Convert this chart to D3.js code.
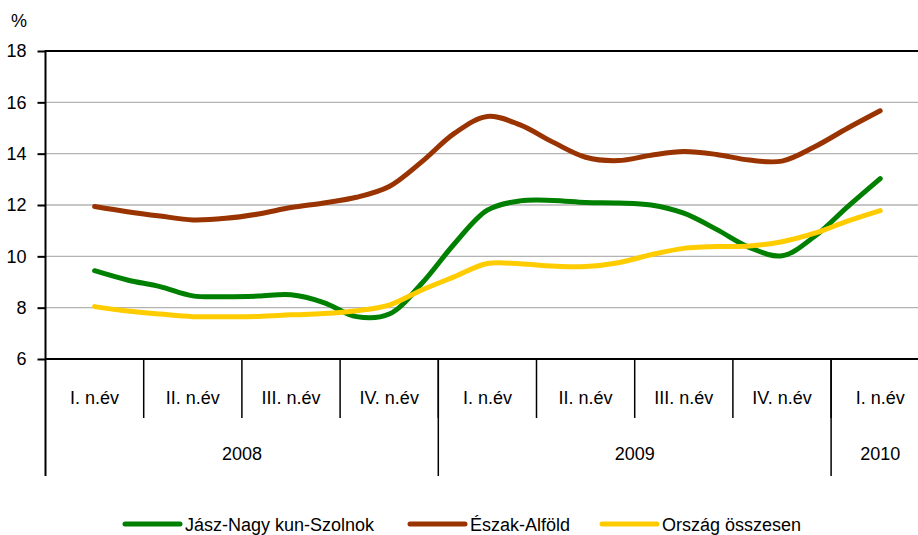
<!DOCTYPE html>
<html>
<head>
<meta charset="utf-8">
<script src="https://cdn.jsdelivr.net/npm/d3@7"></script>
<style>
  html, body { margin: 0; padding: 0; background: #fff; }
  svg { display: block; font-family: "Liberation Sans", Arial, sans-serif; }
</style>
</head>
<body>
<svg id="chart" width="918" height="535"></svg>
<script>
// ---- data ----
const quarters = ["I. n.év", "II. n.év", "III. n.év", "IV. n.év", "I. n.év", "II. n.év", "III. n.év", "IV. n.év", "I. n.év"];
const years = ["2008", "2009", "2010"];
const yearSpans = [4, 4, 1];
const yTicks = [6, 8, 10, 12, 14, 16, 18];
const seriesNames = ["Jász-Nagy kun-Szolnok", "Észak-Alföld", "Ország összesen"];
const jnszValues = [9.44, 9.08, 8.82, 8.46, 8.43, 8.45, 8.5, 8.2, 7.65, 7.75, 8.95, 10.5, 11.8, 12.16, 12.18, 12.1, 12.08, 12.0, 11.68, 11.05, 10.35, 10.02, 10.78, 11.93, 13.03];
const eaValues = [11.94, 11.74, 11.57, 11.42, 11.48, 11.65, 11.9, 12.08, 12.3, 12.72, 13.69, 14.8, 15.45, 15.12, 14.45, 13.86, 13.73, 13.94, 14.08, 13.97, 13.75, 13.71, 14.27, 14.99, 15.67];
const orszagValues = [8.04, 7.87, 7.75, 7.65, 7.65, 7.66, 7.72, 7.77, 7.88, 8.1, 8.69, 9.21, 9.72, 9.71, 9.62, 9.6, 9.75, 10.06, 10.31, 10.38, 10.4, 10.57, 10.9, 11.37, 11.78];
const seriesColors = ["#008000", "#993300", "#FFCC00"];

(function () {
// ---- layout ----
const svg = d3.select("#chart");
const mLeft = 45.5, mRight = 929.3, mTop = 51, mBottom = 359;
const fontSize = 18;

const xBand = d3.scaleBand().domain(d3.range(quarters.length)).range([mLeft, mRight]).padding(0);
const bw = xBand.bandwidth();
const x = d3.scaleLinear().domain([0, (quarters.length - 1) * 3])
  .range([xBand(0) + bw / 2, xBand(quarters.length - 1) + bw / 2]);
const y = d3.scaleLinear().domain([6, 18]).range([mBottom, mTop]);

// gridlines
svg.append("g").selectAll("line").data(yTicks.filter(t => t !== 6 && t !== 18)).join("line")
  .attr("x1", mLeft).attr("x2", mRight)
  .attr("y1", d => y(d)).attr("y2", d => y(d))
  .attr("stroke", "#b3b3b3").attr("stroke-width", 1.3);

// top border
svg.append("line").attr("x1", mLeft).attr("x2", mRight).attr("y1", y(18)).attr("y2", y(18))
  .attr("stroke", "#000").attr("stroke-width", 2);

// y axis
const yAxis = d3.axisLeft(y).tickValues(yTicks).tickSize(8).tickPadding(11).tickFormat(d3.format("d"));
const yg = svg.append("g").attr("transform", `translate(${mLeft},0)`).call(yAxis);
yg.select(".domain").remove();
yg.selectAll(".tick line").attr("stroke", "#000").attr("stroke-width", 2);
yg.selectAll(".tick text").attr("font-size", fontSize).attr("fill", "#000")
  .attr("font-family", "Liberation Sans, Arial, sans-serif");
svg.append("line").attr("x1", mLeft).attr("x2", mLeft).attr("y1", mTop - 1).attr("y2", 476)
  .attr("stroke", "#000").attr("stroke-width", 2);

svg.append("text").attr("x", 11).attr("y", 27).attr("font-size", fontSize).text("%");

// x axis
svg.append("line").attr("x1", mLeft).attr("x2", mRight).attr("y1", mBottom).attr("y2", mBottom)
  .attr("stroke", "#000").attr("stroke-width", 2);

// quarter separators
svg.append("g").selectAll("line").data(d3.range(1, quarters.length)).join("line")
  .attr("x1", d => xBand(d)).attr("x2", d => xBand(d))
  .attr("y1", mBottom).attr("y2", 418)
  .attr("stroke", "#000").attr("stroke-width", 1.5);

svg.append("g").selectAll("text").data(quarters).join("text")
  .attr("x", (d, i) => xBand(i) + bw / 2).attr("y", 404)
  .attr("text-anchor", "middle").attr("font-size", fontSize).text(d => d);

// year separators & labels
let acc = 0;
const yearStarts = yearSpans.map(s => { const a = acc; acc += s; return a; });
svg.append("g").selectAll("line").data(yearStarts.slice(1)).join("line")
  .attr("x1", d => xBand(d)).attr("x2", d => xBand(d))
  .attr("y1", mBottom).attr("y2", 476)
  .attr("stroke", "#000").attr("stroke-width", 1.5);
svg.append("g").selectAll("text").data(years).join("text")
  .attr("x", (d, i) => {
    const s = yearStarts[i], e = s + yearSpans[i];
    return (xBand(s) + (e < quarters.length ? xBand(e) : mRight)) / 2;
  })
  .attr("y", 460).attr("text-anchor", "middle").attr("font-size", fontSize).text(d => d);

// series
const allSeries = [jnszValues, eaValues, orszagValues];
const line = d3.line().x((d, i) => x(i)).y(d => y(d)).curve(d3.curveCatmullRom.alpha(0.5));
svg.append("g").selectAll("path").data(allSeries).join("path")
  .attr("d", d => line(d))
  .attr("fill", "none")
  .attr("stroke", (d, i) => seriesColors[i])
  .attr("stroke-width", 5)
  .attr("stroke-linecap", "round")
  .attr("stroke-linejoin", "round");

// legend
const legendX = [125, 410, 602];
const lg = svg.append("g").selectAll("g").data(seriesNames).join("g")
  .attr("transform", (d, i) => `translate(${legendX[i]},524)`);
lg.append("line").attr("x1", 0).attr("x2", 55).attr("y1", 0).attr("y2", 0)
  .attr("stroke", (d, i) => seriesColors[i]).attr("stroke-width", 5).attr("stroke-linecap", "round");
lg.append("text").attr("x", 60).attr("y", 6.5).attr("font-size", fontSize).text(d => d);
})();
</script>
</body>
</html>
